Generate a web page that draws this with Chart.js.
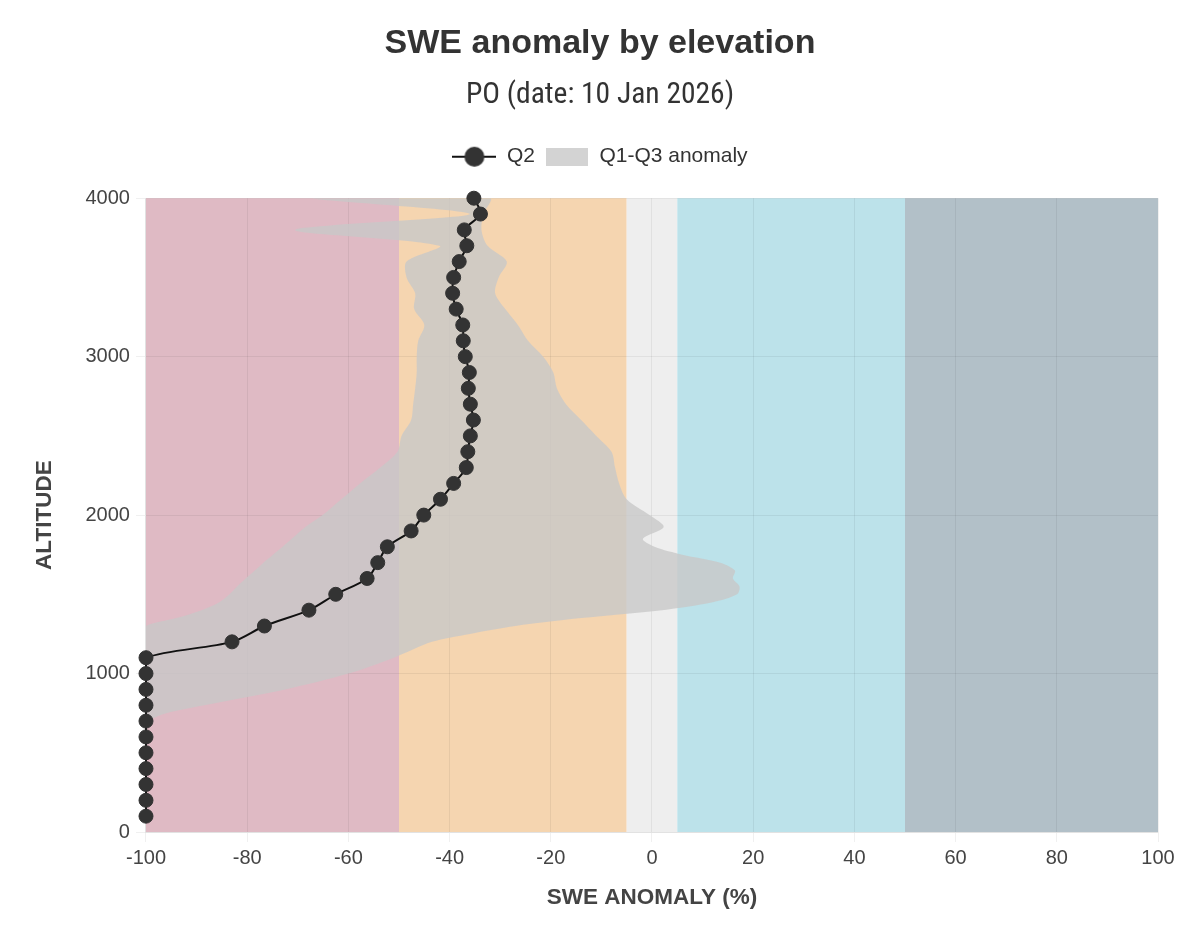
<!DOCTYPE html>
<html>
<head>
<meta charset="utf-8">
<title>SWE anomaly by elevation</title>
<script src="https://cdn.jsdelivr.net/npm/chart.js@4/dist/chart.umd.min.js"></script>
<style>
  html, body { margin: 0; padding: 0; background: #fff; }
  #wrap { width: 1200px; height: 943px; }
</style>
</head>
<body>
<div id="wrap"><canvas id="swe"></canvas></div>
<script>
// Q2 (median) anomaly, one value per 100 m
var q2Alt = [100, 200, 300, 400, 500, 600, 700, 800, 900, 1000,
             1100, 1200, 1300, 1400, 1500, 1600, 1700, 1800, 1900, 2000,
             2100, 2200, 2300, 2400, 2500, 2600, 2700, 2800, 2900, 3000,
             3100, 3200, 3300, 3400, 3500, 3600, 3700, 3800, 3900, 4000];
var q2 = [-100, -100, -100, -100, -100, -100, -100, -100, -100, -100,
          -100, -83, -76.6, -67.8, -62.5, -56.3, -54.2, -52.3, -47.6, -45.1,
          -41.8, -39.2, -36.7, -36.4, -35.9, -35.3, -35.9, -36.3, -36.1, -36.9,
          -37.3, -37.4, -38.7, -39.4, -39.2, -38.1, -36.6, -37.1, -33.9, -35.2];

// Q1 / Q3 envelope
var bandAlt = [700, 750, 800, 900, 1000, 1100, 1200, 1250, 1300, 1350,
               1400, 1450, 1500, 1550, 1600, 1650, 1700, 1750, 1800, 1850,
               1925, 2000, 2100, 2200, 2300, 2400, 2500, 2600, 2700, 2800,
               2900, 3000, 3100, 3200, 3300, 3400, 3500, 3600, 3700, 3800,
               3900, 4000];
var q1 = [-100, -100, -100, -100, -100, -100, -100, -100, -100, -94,
          -89, -85.5, -83.5, -82, -80.3, -78.5, -76.8, -74.9, -73, -71.2,
          -68.5, -65.1, -61.4, -57.7, -53.7, -50.3, -49.5, -47.6, -47.2, -46.8,
          -46.5, -46.5, -46.2, -45, -47, -46.8, -48.5, -48.5, -42, -70.5,
          -36, -67];
var q3 = [-100, -96, -88.5, -72.5, -60, -51, -43.5, -36, -27, -14,
          2, 12, 16.8, 17.3, 16, 16.4, 13.5, 6, 0.5, -1.8,
          2.3, -0.5, -5, -6.5, -7.3, -8, -11, -14, -17, -18.8,
          -19.5, -21.5, -24.5, -26.5, -29, -31, -30.3, -28.7, -32.5, -33.7,
          -33.3, -32];

// background anomaly classes
var zoneEdges = [-100, -50, -5, 5, 50, 100];
var zoneColors = ["#dfbac4", "#f5d5b0", "#eeeeee", "#bce2ea", "#b2c0c8"];

var xTicks = [-100, -80, -60, -40, -20, 0, 20, 40, 60, 80, 100];
var yTicks = [0, 1000, 2000, 3000, 4000];

var bandColor = "rgba(200,200,200,0.8)";
var txt = "#444";
var sans = "'Liberation Sans', Arial, sans-serif";

// Q2 line points
var q2Points = q2Alt.map(function (a, i) { return { x: q2[i], y: a }; });
// envelope polygon: up along Q1, back down along Q3
var bandPoints = [];
for (var i = 0; i < bandAlt.length; i++) bandPoints.push({ x: q1[i], y: bandAlt[i] });
for (var j = bandAlt.length - 1; j >= 0; j--) bandPoints.push({ x: q3[j], y: bandAlt[j] });

// legend icons
var q2Icon = document.createElement("canvas");
q2Icon.width = 44; q2Icon.height = 22;
(function () {
  var c = q2Icon.getContext("2d");
  c.strokeStyle = "#111"; c.lineWidth = 2;
  c.beginPath(); c.moveTo(0, 11); c.lineTo(44, 11); c.stroke();
  c.fillStyle = "#333";
  c.beginPath(); c.arc(22, 11, 10, 0, Math.PI * 2); c.fill();
})();
var bandIcon = document.createElement("canvas");
bandIcon.width = 42; bandIcon.height = 18;
(function () {
  var c = bandIcon.getContext("2d");
  c.fillStyle = bandColor;
  c.fillRect(0, 0, 42, 18);
})();

var zones = {
  id: "zones",
  beforeDraw: function (chart) {
    var ctx = chart.ctx, a = chart.chartArea, x = chart.scales.x;
    ctx.save();
    for (var k = 0; k < zoneColors.length; k++) {
      var x0 = x.getPixelForValue(zoneEdges[k]);
      var x1 = x.getPixelForValue(zoneEdges[k + 1]);
      ctx.fillStyle = zoneColors[k];
      ctx.fillRect(x0, a.top, x1 - x0, a.bottom - a.top);
    }
    ctx.restore();
  }
};

// a bit more room under the legend
var legendGap = {
  id: "legendGap",
  beforeInit: function (chart) {
    if (!chart.legend) return;
    var fit = chart.legend.fit;
    chart.legend.fit = function () { fit.call(this); this.height += 21; };
  }
};

new Chart("swe", {
  type: "line",
  data: {
    datasets: [{
      label: "Q2",
      data: q2Points,
      borderColor: "#111",
      borderWidth: 2,
      backgroundColor: "#333",
      pointBackgroundColor: "#333",
      pointBorderColor: "#333",
      pointRadius: 7,
      pointBorderWidth: 1,
      tension: 0.3,
      fill: false,
      clip: false,
      order: 0
    }, {
      label: "Q1-Q3 anomaly",
      data: bandPoints,
      borderColor: "transparent",
      borderWidth: 0,
      backgroundColor: bandColor,
      pointRadius: 0,
      tension: 0.3,
      fill: "shape",
      order: 1
    }]
  },
  options: {
    responsive: true,
    maintainAspectRatio: false,
    animation: false,
    layout: { padding: { top: 17, left: 42, right: 42, bottom: 31.5 } },
    plugins: {
      title: {
        display: true,
        text: "SWE anomaly by elevation",
        color: "#333",
        font: { family: sans, size: 34, weight: "bold" },
        padding: { top: 6, bottom: 8 }
      },
      subtitle: {
        display: true,
        text: "PO (date: 10 Jan 2026)",
        color: "#333",
        font: { family: "'Roboto Condensed', Roboto, sans-serif", size: 29.5, weight: "normal" },
        padding: { top: 6, bottom: 23 }
      },
      legend: {
        display: true,
        labels: {
          color: "#333",
          font: { family: sans, size: 21 },
          usePointStyle: true,
          pointStyleWidth: 44,
          padding: 10,
          generateLabels: function (chart) {
            var items = Chart.defaults.plugins.legend.labels.generateLabels(chart);
            items[0].pointStyle = q2Icon;
            items[1].pointStyle = bandIcon;
            return items;
          }
        }
      },
      tooltip: { enabled: false }
    },
    scales: {
      x: {
        type: "linear",
        min: -100,
        max: 100,
        afterBuildTicks: function (s) { s.ticks = xTicks.map(function (v) { return { value: v }; }); },
        grid: { color: "rgba(0,0,0,0.06)", tickLength: 10 },
        border: { color: "rgba(0,0,0,0.06)" },
        ticks: { color: txt, padding: 4, font: { family: sans, size: 20 } },
        title: {
          display: true,
          text: "SWE ANOMALY (%)",
          color: txt,
          font: { family: sans, size: 22.5, weight: "bold" },
          padding: { top: 10.5, bottom: 0 }
        }
      },
      y: {
        type: "linear",
        min: 0,
        max: 4000,
        afterBuildTicks: function (s) { s.ticks = yTicks.map(function (v) { return { value: v }; }); },
        grid: { color: "rgba(0,0,0,0.06)", tickLength: 10 },
        border: { color: "rgba(0,0,0,0.06)" },
        ticks: {
          color: txt, padding: 6, font: { family: sans, size: 20 },
          callback: function (v) { return String(v); }
        },
        title: {
          display: true,
          text: "ALTITUDE",
          color: txt,
          font: { family: sans, size: 22.5, weight: "bold" },
          padding: { top: -10.5, bottom: 21 }
        }
      }
    }
  },
  plugins: [zones, legendGap]
});
</script>
</body>
</html>
